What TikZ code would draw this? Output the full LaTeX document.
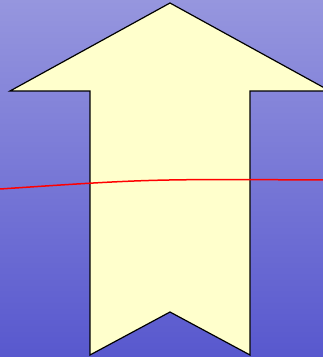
\documentclass[tikz,border=0pt]{standalone}
\usepackage{tikz}

\definecolor{skytop}{RGB}{150,150,222}
\definecolor{skybottom}{RGB}{88,88,206}
\definecolor{arrowfill}{RGB}{255,255,204}

\begin{document}
\begin{tikzpicture}[x=1pt, y=1pt,
    bigarrow/.style={fill=arrowfill, draw=black, line width=1.2pt, line join=miter},
    redline/.style={draw=red, line width=1.5pt}]
  % Background with vertical gradient
  \useasboundingbox (0,0) rectangle (323,357);
  \shade[top color=skytop, bottom color=skybottom] (0,0) rectangle (323,357);
  \begin{scope}
    \clip (0,0) rectangle (323,357);
    % Upward arrow with notched tail
    \draw[bigarrow] (170,354) -- (10,266) -- (90,266) -- (90,2)
      -- (170,45) -- (250,2) -- (250,266) -- (330,266) -- cycle;
    % Red curve across the picture
    \draw[redline] (0,168) .. controls (150,178) .. (323,177);
  \end{scope}
\end{tikzpicture}
\end{document}
